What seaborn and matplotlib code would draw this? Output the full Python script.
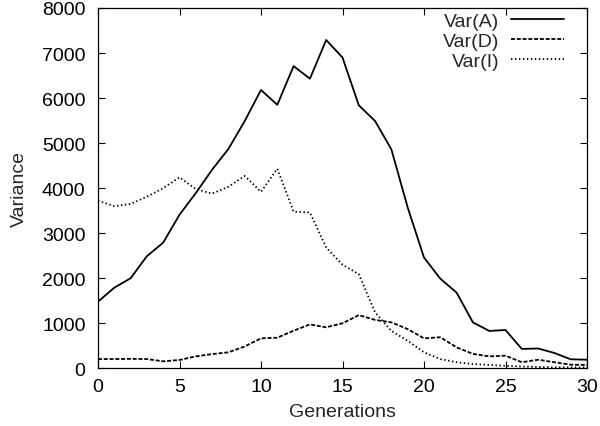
import numpy as np
import pandas as pd
import matplotlib
matplotlib.use("Agg")
import matplotlib.pyplot as plt
import seaborn as sns

generations = list(range(0, 31))
var_a = [1480, 1790, 2000, 2490, 2790, 3410, 3890, 4410, 4870, 5490, 6180, 5850, 6710, 6430, 7290,
         6900, 5840, 5490, 4860, 3570, 2460, 1990, 1680, 1020, 830, 850, 430, 440, 340, 200, 190]
var_d = [205, 205, 210, 205, 155, 185, 265, 315, 355, 485, 665, 680, 835, 975, 910,
         1000, 1180, 1075, 1020, 870, 665, 690, 465, 320, 265, 280, 135, 190, 135, 80, 75]
var_i = [3720, 3600, 3650, 3810, 4000, 4240, 3980, 3880, 4030, 4270, 3920, 4430, 3480, 3460, 2680,
         2300, 2090, 1240, 830, 610, 355, 205, 135, 95, 75, 55, 40, 30, 20, 20, 20]
series_names = ["Var(A)", "Var(D)", "Var(I)"]
x_ticks = [0, 5, 10, 15, 20, 25, 30]
y_ticks = [0, 1000, 2000, 3000, 4000, 5000, 6000, 7000, 8000]

sns.set_theme(style="ticks")
plt.rcParams['font.family'] = ['Liberation Sans', 'DejaVu Sans']

fig = plt.figure(figsize=(6.0, 4.27), dpi=100)
ax = fig.add_axes([98/600, 1-369.3/427, (587-98)/600, (369.3-9)/427])

df = pd.DataFrame({"Generations": generations, "Var(A)": var_a, "Var(D)": var_d, "Var(I)": var_i})
styles = {"Var(A)": "-", "Var(D)": (0, (2.2, 1.0)), "Var(I)": (0, (0.8, 1.4))}
for name in series_names:
    sns.lineplot(data=df, x="Generations", y=name, ax=ax, color="black",
                 linewidth=1.3, linestyle=styles[name], label=name)

ax.set_xlim(0, 30)
ax.set_ylim(0, 8000)
ax.set_xticks(x_ticks)
ax.set_yticks(y_ticks)
ax.set_xlabel("Generations", fontsize=14, labelpad=6)
ax.set_ylabel("Variance", fontsize=14, labelpad=10)
ax.tick_params(direction="in", top=True, right=True, labelsize=14, length=5, width=0.8, colors="black")
ax.tick_params(axis="y", pad=9)
ax.tick_params(axis="x", pad=7)
for s in ax.spines.values():
    s.set_visible(True)
    s.set_linewidth(0.9)
    s.set_color("black")

ax.legend(loc="upper right", markerfirst=False, frameon=False, fontsize=14,
          handlelength=2.7, labelspacing=0.12, handletextpad=0.6,
          borderaxespad=0.0, borderpad=0.0, bbox_to_anchor=(0.952, 0.987))

fig.savefig("out.png", dpi=100)
